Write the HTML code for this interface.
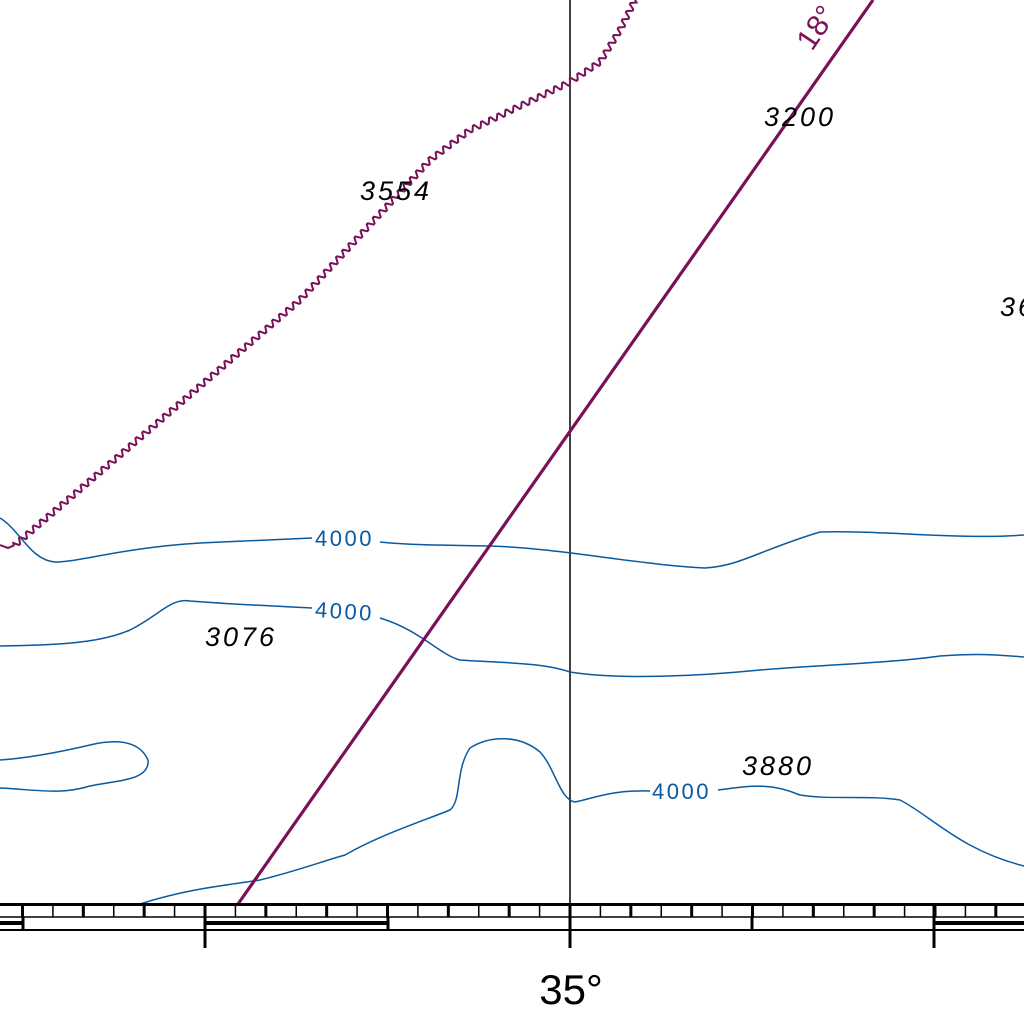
<!DOCTYPE html>
<html><head><meta charset="utf-8"><style>
html,body{margin:0;padding:0;background:#fff;width:1024px;height:1024px;overflow:hidden}
svg{display:block}
text{font-family:"Liberation Sans",sans-serif}
</style></head><body>
<svg id="chart" width="1024" height="1024" viewBox="0 0 1024 1024">
<rect width="1024" height="1024" fill="#fff"/>
<line x1="570" y1="0" x2="570" y2="904" stroke="#000" stroke-width="1.5"/>
<g fill="none" stroke="#0a5aa0" stroke-width="1.5">
<path d="M0,518 C20,530 30,560 55,562 C80,562 120,548 200,543 L312,538 M380,542 C420,546 460,545 490,546 C560,548 640,565 705,568 C740,566 760,550 820,532 C880,530 960,540 1024,535"/>
<path d="M0,646 C60,645 100,643 130,630 C160,615 170,598 190,601 C240,605 280,606 312,608 M380,618 C420,630 440,655 460,660 C500,663 540,662 570,672 C620,680 700,676 760,670 C840,664 900,662 940,656 C980,653 1000,655 1024,657"/>
<path d="M140,904 C190,888 230,885 260,880 C300,870 320,862 345,855 C380,835 420,822 450,810 C462,800 455,770 470,748 C490,735 520,735 540,752 C555,768 560,800 575,802 C595,798 610,790 650,791 M718,790 C750,786 770,782 800,795 C830,800 870,795 900,800 C930,815 960,850 1024,866"/>
<path d="M0,760 C30,758 60,752 90,745 C120,738 140,742 148,760 C150,780 120,780 90,786 C60,795 40,790 0,788"/>
</g>
<g fill="#0a5aa0" font-size="22" letter-spacing="2.5">
<text x="315" y="546">4000</text>
<text x="315" y="619" transform="rotate(4 346 612)">4000</text>
<text x="652" y="799">4000</text>
</g>
<path id="wavy" fill="none" stroke="#7a1058" stroke-width="2"/>
<line x1="238" y1="904" x2="873" y2="0" stroke="#7a1058" stroke-width="3.2"/>
<text x="0" y="0" fill="#7a1058" font-size="30" transform="translate(812,52) rotate(-56)">18°</text>
<g fill="#000" font-size="27" font-style="italic" letter-spacing="3">
<text x="360" y="200">3554</text>
<text x="764" y="126">3200</text>
<text x="205" y="646">3076</text>
<text x="742" y="775">3880</text>
<text x="1000" y="316">36</text>
</g>
<g stroke="#000">
<line x1="0" y1="904.5" x2="1024" y2="904.5" stroke-width="3"/>
<line x1="0" y1="917" x2="1024" y2="917" stroke-width="1.5"/>
<line x1="0" y1="930" x2="1024" y2="930" stroke-width="2"/>
<g id="ticks"></g>
</g>
<text x="571" y="1004" text-anchor="middle" font-size="42" fill="#000">35°</text>
</svg>
<script>
const NS="http://www.w3.org/2000/svg";
// wavy boundary vertices
const wavyX=[0,8,15,120,300,430,470,570,600,620,635];
const wavyY=[545,548,545,455,300,160,130,82,62,30,0];
let pts=[];
for(let i=0;i<wavyX.length-1;i++){
  const x0=wavyX[i],y0=wavyY[i],x1=wavyX[i+1],y1=wavyY[i+1];
  const L=Math.hypot(x1-x0,y1-y0),nx=-(y1-y0)/L,ny=(x1-x0)/L;
  const n=Math.max(2,Math.round(L/1.5));
  for(let k=0;k<n;k++){const t=k/n,s=(pts.length)*1.5;const a=i<2?0:3*Math.sin(s/9*2*Math.PI);
    pts.push((x0+(x1-x0)*t+nx*a).toFixed(1)+","+(y0+(y1-y0)*t+ny*a).toFixed(1));}
}
pts.push(wavyX[wavyX.length-1]+","+wavyY[wavyY.length-1]);
document.getElementById('wavy').setAttribute('d','M'+pts.join(' L'));
// border scale ticks
const g=document.getElementById('ticks');
function ln(x1,y1,x2,y2,w){const l=document.createElementNS(NS,'line');l.setAttribute('x1',x1);l.setAttribute('y1',y1);l.setAttribute('x2',x2);l.setAttribute('y2',y2);l.setAttribute('stroke-width',w);g.appendChild(l);}
const step=365/12;
for(let i=-8;i<36;i++){const x=205+i*step;if(x<0||x>1024)continue;ln(x,904,x,917,(((i%2)+2)%2===0)?3:1.5);}
const minor=[23,205,388,752,934];
minor.forEach(x=>ln(x,917,x,930,3));
[205,570,934].forEach(x=>ln(x,904,x,948,3));
[[0,23],[205,388],[934,1024]].forEach(s=>ln(s[0],923,s[1],923,4));
</script>
</body></html>
